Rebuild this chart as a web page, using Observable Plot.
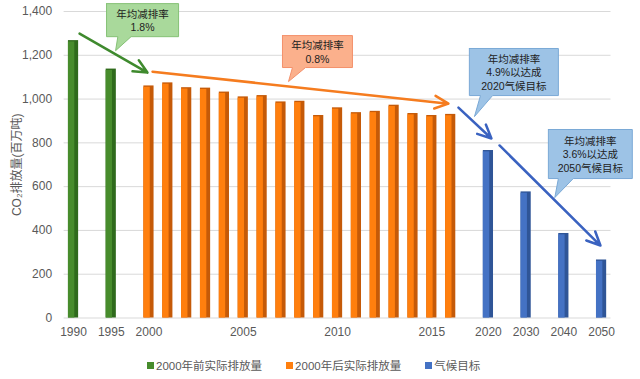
<!DOCTYPE html>
<html><head><meta charset="utf-8">
<script src="https://cdn.jsdelivr.net/npm/d3@7"></script>
<script src="https://cdn.jsdelivr.net/npm/@observablehq/plot@0.6"></script>
<style>
body{margin:0;background:#fff;font-family:"Liberation Sans","Noto Sans CJK SC",sans-serif;}
#legend{display:flex;justify-content:flex-start;gap:24px;padding-left:147px;margin-top:12px;font-size:11.5px;color:#595959;font-family:"Liberation Sans","Noto Sans CJK SC",sans-serif;}
#legend span.sw{display:inline-block;width:7px;height:7px;margin-right:2px;vertical-align:1px;}
</style></head><body><div id="chart"></div><div id="legend"></div><script>
// ---- data ----
const slots = ["1990","","1995","","2000","2001","2002","2003","2004","2005","2006","2007","2008","2009","2010","2011","2012","2013","2014","2015","2016","","2020","","2030","","2040","","2050"];
const tickLabels = ["1990","1995","2000","2005","2010","2015","2020","2030","2040","2050"];
const preYears = ["1990","1995"];
const preValues = [1267,1137];
const postYears = ["2000","2001","2002","2003","2004","2005","2006","2007","2008","2009","2010","2011","2012","2013","2014","2015","2016"];
const postValues = [1060,1074,1052,1050,1032,1010,1016,987,990,925,960,938,944,972,934,925,930];
const targetYears = ["2020","2030","2040","2050"];
const targetValues = [765,576,386,265];
const seriesNames = ["2000年前实际排放量","2000年后实际排放量","气候目标"];
const seriesColors = ["#478c2c","#ff7f0e","#4472c4"];
const seriesDark = ["#2f6a1c","#c55a08","#2f5597"];
const arrowColors = ["#3f8a2e","#f57c1f","#3a62c0"];
const yTicks = [0,200,400,600,800,1000,1200,1400];
// annotation arrows (x in slot index, y in value)
const arrows = [
  {s:0, x1:0.32, y1:1299, x2:3.92, y2:1121},
  {s:1, x1:4.19, y1:1125, x2:19.88, y2:979},
  {s:2, x1:20.41, y1:961, x2:22.16, y2:820},
  {s:2, x1:22.59, y1:788, x2:27.94, y2:331}
];
const callouts = [
  {s:0, text:"年均减排率\n1.8%", x1:1.75, x2:5.57, top:1436, bottom:1285, tailA:2.35, tailB:3.05, tipX:2.23, tipY:1221},
  {s:1, text:"年均减排率\n0.8%", x1:11.08, x2:14.79, top:1290, bottom:1144, tailA:11.61, tailB:12.30, tipX:11.40, tipY:1080},
  {s:2, text:"年均减排率\n4.9%以达成\n2020气候目标", x1:20.99, x2:25.71, top:1231, bottom:1016, tailA:21.58, tailB:22.22, tipX:21.26, tipY:920},
  {s:2, text:"年均减排率\n3.6%以达成\n2050气候目标", x1:25.18, x2:29.63, top:861, bottom:637, tailA:25.71, tailB:26.50, tipX:25.52, tipY:550}
];
const calloutFill = ["#a9d99b","#fbb08c","#9dc3e6"];
const calloutStroke = ["#86c276","#f4906a","#7aa9d6"];

// ---- build tables ----
const idx = y => slots.indexOf(y);
const bars = [
  ...preYears.map((y,i)=>({s:0, i:idx(y), v:preValues[i]})),
  ...postYears.map((y,i)=>({s:1, i:idx(y), v:postValues[i]})),
  ...targetYears.map((y,i)=>({s:2, i:idx(y), v:targetValues[i]}))
];
const polys = [];
callouts.forEach((c,k)=>{
  const pts = [[c.x1,c.top],[c.x2,c.top],[c.x2,c.bottom],[c.tailB,c.bottom],[c.tipX,c.tipY],[c.tailA,c.bottom],[c.x1,c.bottom],[c.x1,c.top]];
  pts.forEach(p=>polys.push({k, s:c.s, x:p[0], y:p[1]}));
});
const tickIdx = tickLabels.map(idx);
const hw = 0.27;

const plot = Plot.plot({
  width: 640, height: 345,
  marginLeft: 63.6, marginRight: 29.5, marginTop: 11, marginBottom: 27.5,
  style: {fontFamily:'"Liberation Sans","Noto Sans CJK SC",sans-serif', fontSize:"12px", color:"#595959", background:"#fff", overflow:"visible"},
  x: {type:"linear", domain:[-0.5, slots.length-0.5]},
  y: {domain:[0,1400]},
  marks: [
    Plot.ruleY(yTicks, {x1:-0.5, x2:slots.length-0.5, stroke:"#d9d9d9", strokeWidth:1}),
    Plot.rectY(bars, {x1:d=>d.i-hw, x2:d=>d.i+hw, y1:0, y2:"v", fill:d=>seriesDark[d.s]}),
    Plot.rectY(bars, {x1:d=>d.i-hw, x2:d=>d.i+hw*0.25, y1:0, y2:d=>d.v-6, fill:d=>seriesColors[d.s]}),
    Plot.axisX({ticks:tickIdx, tickFormat:i=>slots[i], tickSize:0, tickPadding:9, label:null, fontSize:"12px"}),
    Plot.axisY({ticks:yTicks, tickFormat:d3.format(","), tickSize:0, tickPadding:12, label:"CO₂排放量(百万吨)", labelAnchor:"center", labelOffset:52, labelArrow:"none", fontSize:"12px"}),
    Plot.arrow(arrows, {x1:"x1", y1:"y1", x2:"x2", y2:"y2", stroke:d=>arrowColors[d.s], strokeWidth:2.5, headLength:9, headAngle:50}),
    Plot.line(polys, {x:"x", y:"y", z:"k", fill:d=>calloutFill[d.s], stroke:d=>calloutStroke[d.s], strokeWidth:1, curve:"linear"}),
    Plot.text(callouts, {x:d=>(d.x1+d.x2)/2, y:d=>(d.top+d.bottom)/2, text:"text", fill:"#222", fontSize:10.5, lineHeight:1.3})
  ]
});
document.getElementById("chart").appendChild(plot);
const lg = document.getElementById("legend");
seriesNames.forEach((n,i)=>{
  const d = document.createElement("div");
  d.innerHTML = `<span class="sw" style="background:${seriesColors[i]}"></span>${n}`;
  lg.appendChild(d);
});
</script></body></html>
